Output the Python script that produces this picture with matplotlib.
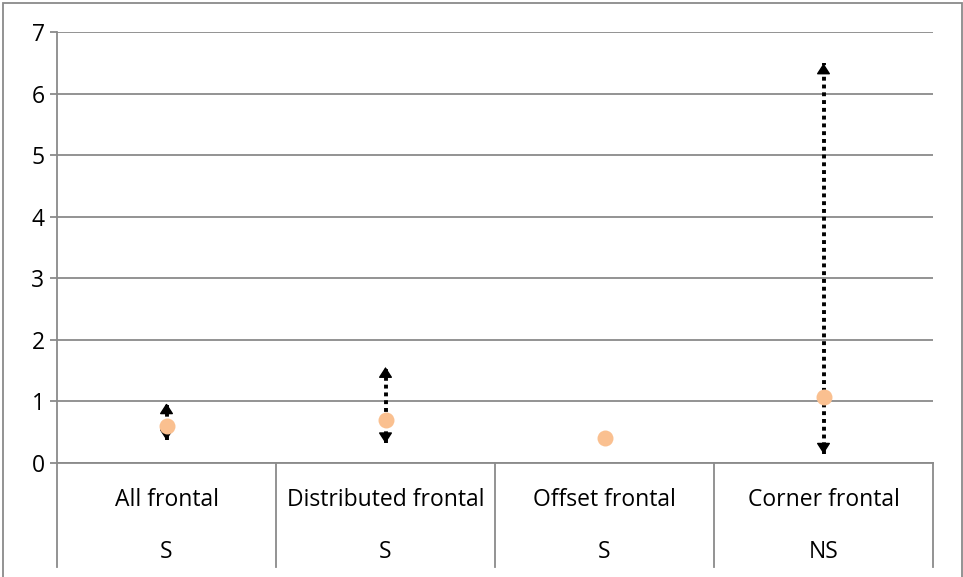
import matplotlib
matplotlib.use("Agg")
import matplotlib.pyplot as plt
from matplotlib.patches import Rectangle
from matplotlib.lines import Line2D

plt.rcParams['font.family'] = ['Open Sans', 'DejaVu Sans']

categories = ['All frontal', 'Distributed frontal', 'Offset frontal', 'Corner frontal']
significance = ['S', 'S', 'S', 'NS']
values = [0.60, 0.70, 0.41, 1.07]
upper = [0.97, 1.56, None, 6.49]
lower = [0.37, 0.32, None, 0.15]

grid_col = '#8a8a8a'
fs = 16.5
fig = plt.figure(figsize=(9.63, 5.77), dpi=100)
ax = fig.add_axes([57 / 963, 1 - 463 / 577, 876 / 963, 431 / 577])

x = list(range(len(categories)))
ax.set_xlim(-0.5, len(categories) - 0.5)
ax.set_ylim(0, 7)
ax.set_yticks(range(0, 8))
ax.yaxis.grid(True, color=grid_col, linewidth=1.3)
ax.set_axisbelow(True)
ax.tick_params(axis='y', length=5, width=1.3, color=grid_col, labelsize=fs, pad=4)
ax.tick_params(axis='x', length=0, labelbottom=False)
for s in ['top', 'right']:
    ax.spines[s].set_visible(False)
for s in ['left', 'bottom']:
    ax.spines[s].set_color(grid_col)
    ax.spines[s].set_linewidth(1.3)

# error ranges: dotted shaft + solid arrow heads
for xi, lo, hi in zip(x, lower, upper):
    if lo is None:
        continue
    ax.vlines(xi, lo, hi, colors='black', linewidth=2.8,
              linestyles=(0, (1, 1)), zorder=2)
    for end, off in ((hi, -7), (lo, 7)):
        ax.annotate('', xy=(xi, end), xytext=(0, off), textcoords='offset points',
                    arrowprops=dict(arrowstyle='-|>,head_length=0.65,head_width=0.42',
                                    color='black', lw=1, shrinkA=0, shrinkB=0,
                                    mutation_scale=10), zorder=3)

ax.plot(x, values, 'o', color='#fac090', markersize=11.5, zorder=4,
        markeredgewidth=0)

# two-level category labels below the axis
trans = ax.get_xaxis_transform()
for xi, cat, sig in zip(x, categories, significance):
    ax.text(xi, -37 / 431, cat, transform=trans, ha='center', va='center',
            fontsize=fs, clip_on=False)
    ax.text(xi, -89 / 431, sig, transform=trans, ha='center', va='center',
            fontsize=fs, clip_on=False)
for k in range(len(categories) + 1):
    ax.add_line(Line2D([k - 0.5, k - 0.5], [0, -104 / 431], transform=trans,
                       color=grid_col, linewidth=1.3, clip_on=False))

# outer chart border
fig.patches.append(Rectangle((3 / 963, -0.05), 959 / 963, 1 - 3 / 577 + 0.05,
                             transform=fig.transFigure, fill=False,
                             edgecolor=grid_col, linewidth=1.3))

fig.savefig('out.png', dpi=100)
